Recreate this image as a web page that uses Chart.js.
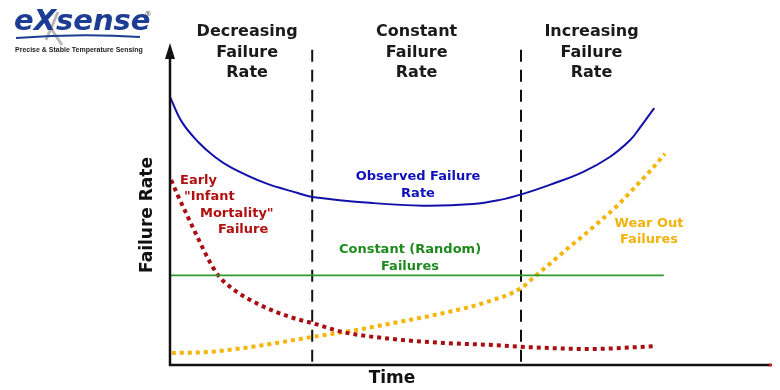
<!DOCTYPE html>
<html>
<head>
<meta charset="utf-8">
<script src="https://cdn.jsdelivr.net/npm/chart.js@4/dist/chart.umd.min.js"></script>
<style>
  html, body { margin: 0; padding: 0; background: #fff; }
  #wrap { width: 780px; height: 390px; position: relative; }
</style>
</head>
<body>
<div id="wrap"><canvas id="grafica"></canvas></div>
<script>
// tiempo (0-100) y tasa de fallo (0-100)
var tiempoObservado = [0, 2, 4.7, 7.5, 10.3, 15.8, 21.3, 23.7, 33.8, 42.2, 50.5, 55, 58.7, 63.3, 68.8, 73.3, 76.7, 78.3, 80.7];
var tasaObservada   = [83.8, 75.9, 69.7, 65, 61.6, 56.9, 53.75, 52.5, 50.6, 49.8, 50.3, 51.6, 53.4, 56.3, 60.3, 65, 70.3, 74.1, 80.3];

var tiempoInfantil = [0.2, 1.3, 3, 4.7, 6.3, 8, 10.3, 15, 20.5, 23.7, 28.8, 37.2, 45.5, 53.8, 59.5, 70, 81];
var tasaInfantil   = [57.8, 53, 46.2, 39.5, 33.4, 28.1, 24, 18.75, 14.7, 13.1, 10.3, 8.1, 6.9, 6.25, 5.6, 5, 5.9];

var tiempoDesgaste = [0.3, 6.7, 12.2, 17.8, 23.7, 30, 37.2, 45.5, 52.8, 58.5, 60.5, 63.3, 66.2, 68.8, 71.7, 74.5, 77.2, 80, 82.5];
var tasaDesgaste   = [3.75, 4.1, 5.3, 6.9, 8.75, 10.6, 13.1, 16.2, 19.7, 24, 27.2, 31.6, 36.3, 40.3, 45, 49.7, 55, 60.6, 66];

var tiempoConstante = [0, 82.3];
var tasaConstante   = [28, 28];

var limitesFase = [23.7, 58.5];
var titulosFase = [["Decreasing", "Failure", "Rate"], ["Constant", "Failure", "Rate"], ["Increasing", "Failure", "Rate"]];

function puntos(xs, ys) {
    return xs.map(function(x, i) { return { x: x, y: ys[i] }; });
}

var datasets = [
    { data: puntos(tiempoConstante, tasaConstante), borderColor: "#2e9a2e", borderWidth: 1.6, pointRadius: 0, clip: false },
    { data: puntos(tiempoObservado, tasaObservada), borderColor: "#1111aa", borderWidth: 2, pointRadius: 0, tension: 0.4, clip: false },
    { data: puntos(tiempoInfantil, tasaInfantil), borderColor: "#a80f12", borderWidth: 4, borderDash: [4, 4], borderCapStyle: "butt", pointRadius: 0, cubicInterpolationMode: "monotone", clip: false },
    { data: puntos(tiempoDesgaste, tasaDesgaste), borderColor: "#f5b50a", borderWidth: 4, borderDash: [4, 4], borderCapStyle: "butt", pointRadius: 0, cubicInterpolationMode: "monotone", clip: false }
];
limitesFase.forEach(function(t) {
    datasets.push({ data: [{ x: t, y: 98.5 }, { x: t, y: 0 }], borderColor: "#111", borderWidth: 2, borderDash: [12, 8], pointRadius: 0, clip: false });
});

function texto(ctx, s, x, y, font, color, align) {
    ctx.font = font;
    ctx.fillStyle = color;
    ctx.textAlign = align || "center";
    ctx.textBaseline = "middle";
    ctx.fillText(s, x, y);
}

var dibujos = {
    id: "dibujos",
    afterDatasetsDraw: function(chart) {
        var ctx = chart.ctx;
        var sx = chart.scales.x, sy = chart.scales.y;
        var x0 = sx.getPixelForValue(0), y0 = sy.getPixelForValue(0);
        ctx.save();
        // ejes
        ctx.strokeStyle = "#111";
        ctx.lineWidth = 2.5;
        ctx.beginPath();
        ctx.moveTo(x0, sy.getPixelForValue(97));
        ctx.lineTo(x0, y0);
        ctx.lineTo(sx.getPixelForValue(100), y0);
        ctx.stroke();
        ctx.fillStyle = "#111";
        ctx.beginPath();
        ctx.moveTo(x0, sy.getPixelForValue(100) - 2);
        ctx.lineTo(x0 - 5, sy.getPixelForValue(100) + 14);
        ctx.lineTo(x0 + 5, sy.getPixelForValue(100) + 14);
        ctx.closePath();
        ctx.fill();
        ctx.fillStyle = "#c02020";
        ctx.fillRect(sx.getPixelForValue(100) - 1, y0 - 1.5, 3, 3);

        // titulos de fase
        var centros = [(0 + limitesFase[0]) / 2 + 1, (limitesFase[0] + limitesFase[1]) / 2, (limitesFase[1] + 82) / 2];
        titulosFase.forEach(function(lineas, i) {
            var cx = sx.getPixelForValue(centros[i]);
            lineas.forEach(function(l, j) {
                texto(ctx, l, cx, 32 + j * 20.5, "bold 16px 'DejaVu Sans'", "#1a1a1a");
            });
        });

        // etiquetas de curvas
        var f13 = "bold 13px 'DejaVu Sans'";
        texto(ctx, "Observed Failure", 418, 177, f13, "#1111bb");
        texto(ctx, "Rate", 418, 194, f13, "#1111bb");
        texto(ctx, "Early", 180, 181, f13, "#b01010", "left");
        texto(ctx, "\"Infant", 184, 197, f13, "#b01010", "left");
        texto(ctx, "Mortality\"", 200, 214, f13, "#b01010", "left");
        texto(ctx, "Failure", 218, 230, f13, "#b01010", "left");
        texto(ctx, "Constant (Random)", 410, 250, f13, "#1e8a1e");
        texto(ctx, "Failures", 410, 267, f13, "#1e8a1e");
        texto(ctx, "Wear Out", 649, 224, f13, "#f2b20c");
        texto(ctx, "Failures", 649, 240, f13, "#f2b20c");

        // titulos de ejes
        texto(ctx, "Time", 392, 379, "bold 17px 'DejaVu Sans'", "#111");
        ctx.translate(148, 215);
        ctx.rotate(-Math.PI / 2);
        texto(ctx, "Failure Rate", 0, 0, "bold 17px 'DejaVu Sans'", "#111");
        ctx.restore();

        // logo
        ctx.save();
        ctx.strokeStyle = "#b8b8b8";
        ctx.lineWidth = 3;
        ctx.beginPath();
        ctx.moveTo(40, 12); ctx.lineTo(62, 45);
        ctx.moveTo(58, 12); ctx.lineTo(46, 40);
        ctx.stroke();
        texto(ctx, "eXsense", 14, 22, "bold italic 29px 'DejaVu Sans'", "#1d3d94", "left");
        ctx.strokeStyle = "#1d3d94";
        ctx.lineWidth = 2;
        ctx.beginPath();
        ctx.moveTo(16, 38);
        ctx.quadraticCurveTo(80, 33, 140, 37);
        ctx.stroke();
        texto(ctx, "®", 148, 14, "7px 'DejaVu Sans'", "#444");
        texto(ctx, "Precise & Stable Temperature Sensing", 15, 50, "bold 7px 'Liberation Sans'", "#222", "left");
        ctx.restore();
    }
};

new Chart(document.getElementById("grafica"), {
    type: "line",
    data: { datasets: datasets },
    options: {
        responsive: true,
        maintainAspectRatio: false,
        animation: false,
        layout: { padding: { left: 170, right: 10, top: 45, bottom: 25 } },
        plugins: { legend: { display: false }, tooltip: { enabled: false } },
        scales: {
            x: { type: "linear", min: 0, max: 100, display: false },
            y: { type: "linear", min: 0, max: 100, display: false }
        }
    },
    plugins: [dibujos]
});
</script>
</body>
</html>
